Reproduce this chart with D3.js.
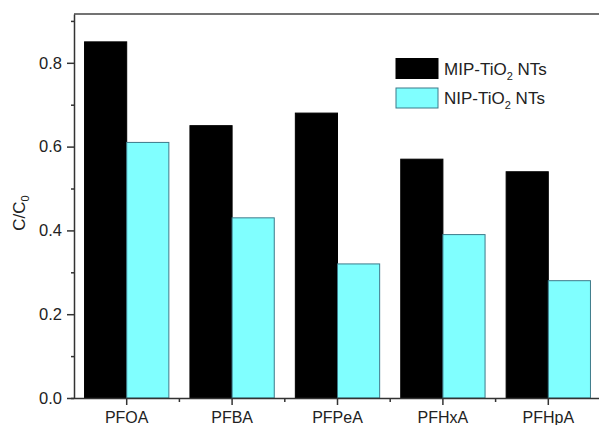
<!DOCTYPE html>
<html>
<head>
<meta charset="utf-8">
<script src="https://cdn.jsdelivr.net/npm/d3@7"></script>
<style>
  html, body { margin: 0; padding: 0; background: #fff; }
  svg { display: block; font-family: "Liberation Sans", Arial, sans-serif; }
</style>
</head>
<body>
<svg id="chart" width="599" height="425"></svg>
<script>
const categories = ["PFOA", "PFBA", "PFPeA", "PFHxA", "PFHpA"];
const seriesNames = ["MIP", "NIP"];
const mipValues = [0.85, 0.65, 0.68, 0.57, 0.54];
const nipValues = [0.61, 0.43, 0.32, 0.39, 0.28];
const yMajorTicks = [0.0, 0.2, 0.4, 0.6, 0.8];
const yMinorTicks = [0.1, 0.3, 0.5, 0.7, 0.9];
const colors = { MIP: "#000000", NIP: "#80ffff" };
const strokes = { MIP: "#000000", NIP: "#3d7a8a" };

const svg = d3.select("#chart");
const mLeft = 74, mRight = 601, mTop = 14, mBottom = 398;

const x = d3.scaleBand().domain(categories).range([mLeft, mRight])
  .paddingInner(0.2).paddingOuter(0.1);
const xs = d3.scaleBand().domain(seriesNames).range([0, x.bandwidth()]);
const y = d3.scaleLinear().domain([0, 0.9165]).range([mBottom, mTop]);

const rows = categories.map((c, i) => ({ c, MIP: mipValues[i], NIP: nipValues[i] }));

// bars
const g = svg.append("g");
rows.forEach(r => {
  seriesNames.forEach(s => {
    g.append("rect")
      .attr("x", x(r.c) + xs(s))
      .attr("y", y(r[s]))
      .attr("width", xs.bandwidth())
      .attr("height", y(0) - y(r[s]))
      .attr("fill", colors[s])
      .attr("stroke", strokes[s])
      .attr("stroke-width", 1);
  });
});

const axisColor = "#333";

// top frame line
svg.append("line")
  .attr("x1", mLeft).attr("x2", mRight)
  .attr("y1", mTop).attr("y2", mTop)
  .attr("stroke", "#444").attr("stroke-width", 1.5);

// y axis
const yAxis = svg.append("g").attr("transform", `translate(${mLeft},0)`)
  .call(d3.axisLeft(y).tickValues(yMajorTicks).tickFormat(d3.format(".1f"))
    .tickSize(7).tickPadding(5).tickSizeOuter(0));
yAxis.select(".domain").attr("stroke", axisColor).attr("stroke-width", 1.5);
yAxis.selectAll(".tick line").attr("stroke", axisColor).attr("stroke-width", 1.5);
yAxis.selectAll("text").attr("font-size", 16.5).attr("fill", "#222")
  .attr("font-family", "Liberation Sans, Arial, sans-serif");

const yMinor = svg.append("g").attr("transform", `translate(${mLeft + 1},0)`)
  .call(d3.axisLeft(y).tickValues(yMinorTicks).tickSize(4).tickFormat(""));
yMinor.select(".domain").remove();
yMinor.selectAll(".tick line").attr("stroke", axisColor).attr("stroke-width", 1.5);

// x axis
const xAxis = svg.append("g").attr("transform", `translate(0,${mBottom})`)
  .call(d3.axisBottom(x).tickSize(7).tickPadding(7).tickSizeOuter(0));
xAxis.select(".domain").attr("stroke", axisColor).attr("stroke-width", 1.5)
  .attr("d", `M${mLeft - 3},0.5H${mRight}`);
xAxis.selectAll(".tick line").attr("stroke", axisColor).attr("stroke-width", 1.5);
xAxis.selectAll("text").attr("font-size", 16).attr("fill", "#222")
  .attr("font-family", "Liberation Sans, Arial, sans-serif");

// minor x ticks between categories
const step = x.step();
const minorX = categories.slice(0, -1).map(c => x(c) + x.bandwidth() + step * x.paddingInner() / 2);
svg.append("g").selectAll("line").data(minorX).join("line")
  .attr("x1", d => d).attr("x2", d => d)
  .attr("y1", mBottom).attr("y2", mBottom + 4)
  .attr("stroke", axisColor).attr("stroke-width", 1.5);

// y label
const yl = svg.append("text")
  .attr("transform", "translate(25,213) rotate(-90)")
  .attr("text-anchor", "middle")
  .attr("font-size", 17).attr("fill", "#222");
yl.append("tspan").text("C/C");
yl.append("tspan").text("0").attr("font-size", 11).attr("dy", 4);

// legend
const legendItems = [
  { key: "MIP", label: "MIP-TiO", rest: " NTs", yy: 58.5 },
  { key: "NIP", label: "NIP-TiO", rest: " NTs", yy: 88 }
];
const lg = svg.append("g");
legendItems.forEach(it => {
  lg.append("rect").attr("x", 396).attr("y", it.yy).attr("width", 42).attr("height", 20)
    .attr("fill", colors[it.key]).attr("stroke", strokes[it.key]).attr("stroke-width", 1);
  const t = lg.append("text").attr("x", 444).attr("y", it.yy + 16)
    .attr("font-size", 17).attr("fill", "#222");
  t.append("tspan").text(it.label);
  t.append("tspan").text("2").attr("font-size", 11).attr("dy", 5);
  t.append("tspan").text(it.rest).attr("dy", -5);
});
</script>
</body>
</html>
